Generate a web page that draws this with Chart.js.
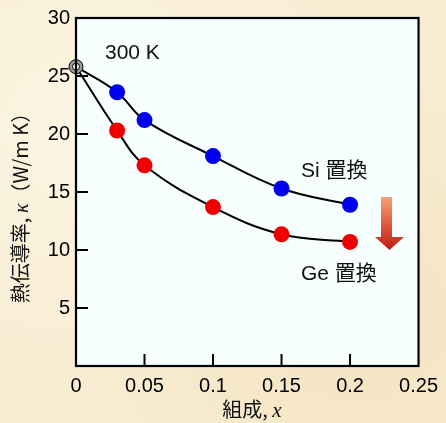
<!DOCTYPE html>
<html>
<head>
<meta charset="utf-8">
<script src="https://cdn.jsdelivr.net/npm/chart.js@4"></script>
<style>
  html, body { margin: 0; padding: 0; }
  body {
    width: 446px; height: 423px; overflow: hidden;
    background:
      radial-gradient(ellipse at 20% 30%, rgba(255,250,235,0.7), rgba(255,250,235,0) 60%),
      radial-gradient(ellipse at 80% 75%, rgba(240,222,180,0.6), rgba(240,222,180,0) 55%),
      #f8ecd2;
  }
  #wrap { position: relative; width: 446px; height: 423px; }
</style>
</head>
<body>
<div id="wrap"><canvas id="myChart" width="446" height="423"></canvas></div>
<script>
// DATA
var composition = [0, 0.03, 0.05, 0.1, 0.15, 0.2];
var siKappa = [25.8, 23.6, 21.2, 18.1, 15.3, 13.9];
var geKappa = [25.8, 20.3, 17.3, 13.7, 11.35, 10.7];
var startPoint = [{ x: 0, y: 25.8 }];
var xTicks = [0, 0.05, 0.1, 0.15, 0.2, 0.25];
var yTicks = [5, 10, 15, 20, 25, 30];

function toPoints(xs, ys) {
  return xs.map(function (x, i) { return { x: x, y: ys[i] }; });
}

// per-point radius: hide the shared start point
function radii(r) {
  return composition.map(function (x, i) { return i === 0 ? 0 : r; });
}

var sansFont = "'Liberation Sans', Arial, sans-serif";
var cjkFont = "'Noto Sans CJK JP', sans-serif";

// plot background, frame, inward ticks, texts, arrow
var decoPlugin = {
  id: "deco",
  beforeDraw: function (chart) {
    var a = chart.chartArea, ctx = chart.ctx;
    ctx.save();
    ctx.fillStyle = "#f7fefe";
    ctx.fillRect(a.left, a.top, a.right - a.left, a.bottom - a.top);
    ctx.restore();
  },
  afterDatasetsDraw: function (chart) {
    var a = chart.chartArea, ctx = chart.ctx;
    var xs = chart.scales.x, ys = chart.scales.y;
    ctx.save();
    // frame
    ctx.strokeStyle = "#000";
    ctx.lineWidth = 2.2;
    ctx.strokeRect(a.left, a.top, a.right - a.left, a.bottom - a.top);
    // inward ticks
    ctx.lineWidth = 2;
    ctx.beginPath();
    [0.05, 0.1, 0.15, 0.2].forEach(function (v) {
      var px = xs.getPixelForValue(v);
      ctx.moveTo(px, a.bottom);
      ctx.lineTo(px, a.bottom - 12);
    });
    [5, 10, 15, 20, 25].forEach(function (v) {
      var py = ys.getPixelForValue(v);
      ctx.moveTo(a.left, py);
      ctx.lineTo(a.left + 12, py);
    });
    ctx.stroke();

    // annotations
    ctx.fillStyle = "#111";
    ctx.textBaseline = "alphabetic";
    ctx.textAlign = "left";
    ctx.font = "21px " + sansFont;
    ctx.fillText("300 K", 105, 59);
    drawMixed(ctx, [["Si ", "21px " + sansFont], ["置換", "21px " + cjkFont]], 301, 177);
    drawMixed(ctx, [["Ge ", "21px " + sansFont], ["置換", "21px " + cjkFont]], 301, 280);

    // arrow
    var g = ctx.createLinearGradient(0, 197, 0, 250);
    g.addColorStop(0, "#f9a070");
    g.addColorStop(1, "#c41a12");
    ctx.fillStyle = g;
    ctx.beginPath();
    ctx.moveTo(381, 197);
    ctx.lineTo(392, 197);
    ctx.lineTo(392, 237);
    ctx.lineTo(404, 237);
    ctx.lineTo(389.5, 250);
    ctx.lineTo(375, 237);
    ctx.lineTo(381, 237);
    ctx.closePath();
    ctx.fill();

    ctx.fillStyle = "#111";
    // x axis title
    var xParts = [["組成, ", "20px " + cjkFont], ["x", "italic 21px 'Liberation Serif', serif"]];
    var w = measureMixed(ctx, xParts);
    drawMixed(ctx, xParts, 252 - w / 2, 417);

    // y axis title, rotated
    var yParts = [
      ["熱伝導率, ", "20px " + cjkFont],
      ["κ", "italic 20px 'Liberation Serif', serif"],
      ["（W/m K）", "20px " + cjkFont]
    ];
    var wy = measureMixed(ctx, yParts);
    ctx.translate(28, 203);
    ctx.rotate(-Math.PI / 2);
    drawMixed(ctx, yParts, -wy / 2, 0);
    ctx.restore();
  }
};

function measureMixed(ctx, parts) {
  var w = 0;
  parts.forEach(function (p) { ctx.font = p[1]; w += ctx.measureText(p[0]).width; });
  return w;
}
function drawMixed(ctx, parts, x, y) {
  parts.forEach(function (p) {
    ctx.font = p[1];
    ctx.fillText(p[0], x, y);
    x += ctx.measureText(p[0]).width;
  });
}

function renderChart() {
  const data = {
    datasets: [
      {
        label: "Si",
        data: toPoints(composition, siKappa),
        showLine: true,
        order: 3,
        borderColor: "#000",
        borderWidth: 2,
        tension: 0.4,
        pointRadius: radii(8),
        pointBackgroundColor: "#0000ee",
        pointBorderColor: "#0000ee",
        pointBorderWidth: 0
      },
      {
        label: "Ge",
        data: toPoints(composition, geKappa),
        showLine: true,
        order: 3,
        borderColor: "#000",
        borderWidth: 2,
        tension: 0.4,
        pointRadius: radii(8),
        pointBackgroundColor: "#ee0000",
        pointBorderColor: "#ee0000",
        pointBorderWidth: 0
      },
      {
        label: "start outer",
        data: startPoint,
        order: 1,
        pointRadius: 7,
        pointBackgroundColor: "#9a9a9a",
        pointBorderColor: "#000",
        pointBorderWidth: 1
      },
      {
        label: "start inner",
        data: startPoint,
        order: 0,
        pointRadius: 3.5,
        pointBackgroundColor: "#fff",
        pointBorderColor: "#000",
        pointBorderWidth: 1
      }
    ]
  };

  const config = {
    type: "scatter",
    data: data,
    options: {
      responsive: false,
      animation: false,
      clip: false,
      layout: { padding: { top: 18, right: 23, left: 0, bottom: 0 } },
      plugins: { legend: { display: false }, tooltip: { enabled: false } },
      scales: {
        x: {
          type: "linear",
          min: 0,
          max: 0.25,
          afterBuildTicks: function (s) { s.ticks = xTicks.map(function (v) { return { value: v }; }); },
          afterFit: function (s) { s.height = 57; },
          grid: { display: false, drawTicks: false },
          border: { display: false },
          ticks: {
            color: "#000",
            padding: 8,
            font: { family: sansFont, size: 20 },
            callback: function (v) { return String(v); }
          }
        },
        y: {
          min: 0,
          max: 30,
          afterBuildTicks: function (s) { s.ticks = yTicks.map(function (v) { return { value: v }; }); },
          afterFit: function (s) { s.width = 76; },
          grid: { display: false, drawTicks: false },
          border: { display: false },
          ticks: {
            color: "#000",
            padding: 6,
            font: { family: sansFont, size: 20 },
            callback: function (v) { return String(v); }
          }
        }
      }
    },
    plugins: [decoPlugin]
  };

  const myChart = new Chart(document.getElementById("myChart"), config);
}
renderChart();
</script>
</body>
</html>
